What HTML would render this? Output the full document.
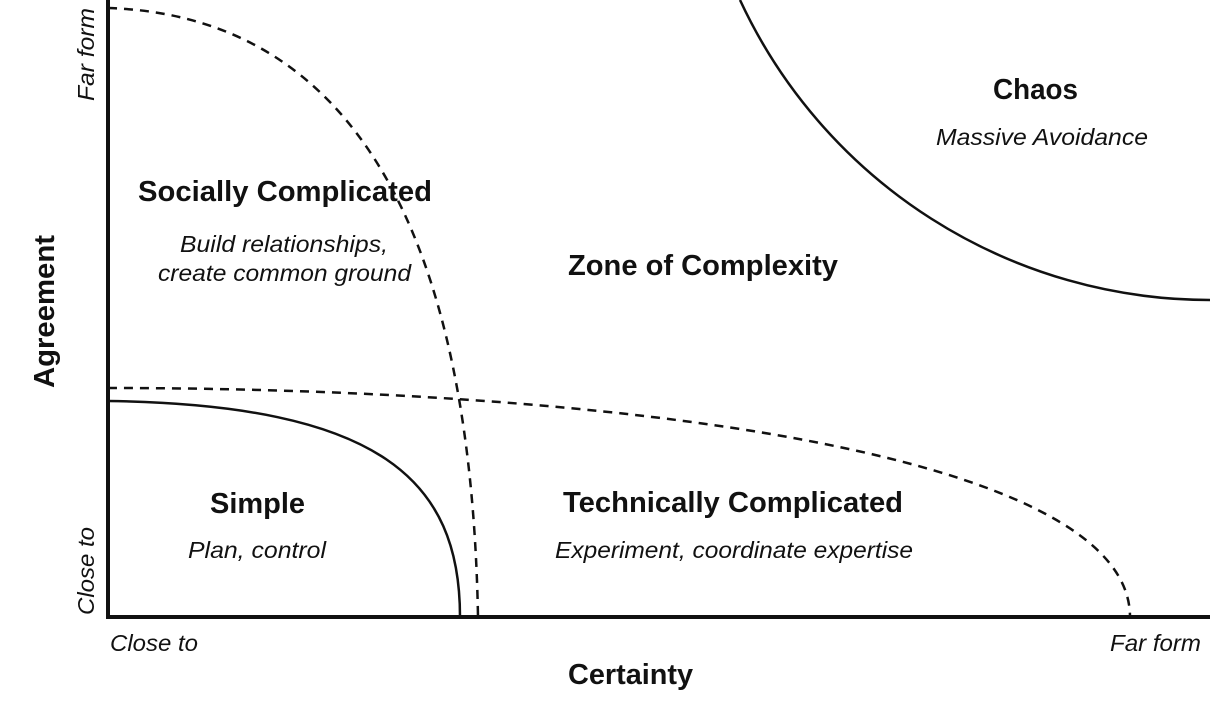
<!DOCTYPE html>
<html><head><meta charset="utf-8"><style>
html,body{margin:0;padding:0;background:#fff;width:1210px;height:720px;overflow:hidden}
svg{display:block}
text{font-family:"Liberation Sans Narrow","Liberation Sans",sans-serif;fill:#111;dominant-baseline:central}
.b{font-weight:bold;font-size:29px}
.i{font-style:italic;font-size:23px}
</style></head><body>
<svg width="1210" height="720" viewBox="0 0 1210 720">
<g fill="none" stroke="#111" stroke-width="2.5">
<path d="M108,8 C320,15 470,180 478,617" stroke-dasharray="9,7"/>
<path d="M108,388 C600,388 1130,450 1130,617" stroke-dasharray="9,7"/>
<path d="M108,401 C380,405 460,480 460,617"/>
<path d="M740,0 A518,518 0 0 0 1210,300"/>
</g>
<line x1="108" y1="0" x2="108" y2="619" stroke="#111" stroke-width="4"/>
<line x1="106" y1="617" x2="1210" y2="617" stroke="#111" stroke-width="4"/>
<text class="b" x="138" y="192" textLength="294" lengthAdjust="spacingAndGlyphs">Socially Complicated</text>
<text class="i" x="180" y="244" textLength="208" lengthAdjust="spacingAndGlyphs">Build relationships,</text>
<text class="i" x="158" y="273" textLength="253" lengthAdjust="spacingAndGlyphs">create common ground</text>
<text class="b" x="568" y="266" textLength="270" lengthAdjust="spacingAndGlyphs">Zone of Complexity</text>
<text class="b" x="993" y="90" textLength="85" lengthAdjust="spacingAndGlyphs">Chaos</text>
<text class="i" x="936" y="137" textLength="212" lengthAdjust="spacingAndGlyphs">Massive Avoidance</text>
<text class="b" x="210" y="504" textLength="95" lengthAdjust="spacingAndGlyphs">Simple</text>
<text class="i" x="188" y="550" textLength="138" lengthAdjust="spacingAndGlyphs">Plan, control</text>
<text class="b" x="563" y="503" textLength="340" lengthAdjust="spacingAndGlyphs">Technically Complicated</text>
<text class="i" x="555" y="550" textLength="358" lengthAdjust="spacingAndGlyphs">Experiment, coordinate expertise</text>
<text class="i" x="110" y="643" textLength="88" lengthAdjust="spacingAndGlyphs">Close to</text>
<text class="i" x="1110" y="643" textLength="91" lengthAdjust="spacingAndGlyphs">Far form</text>
<text class="b" x="568" y="675" textLength="125" lengthAdjust="spacingAndGlyphs">Certainty</text>
<text class="b" transform="translate(45,388) rotate(-90)" x="0" y="0" textLength="153" lengthAdjust="spacingAndGlyphs">Agreement</text>
<text class="i" transform="translate(86,101) rotate(-90)" x="0" y="0" textLength="93" lengthAdjust="spacingAndGlyphs">Far form</text>
<text class="i" transform="translate(86,615) rotate(-90)" x="0" y="0" textLength="88" lengthAdjust="spacingAndGlyphs">Close to</text>
</svg>
</body></html>
